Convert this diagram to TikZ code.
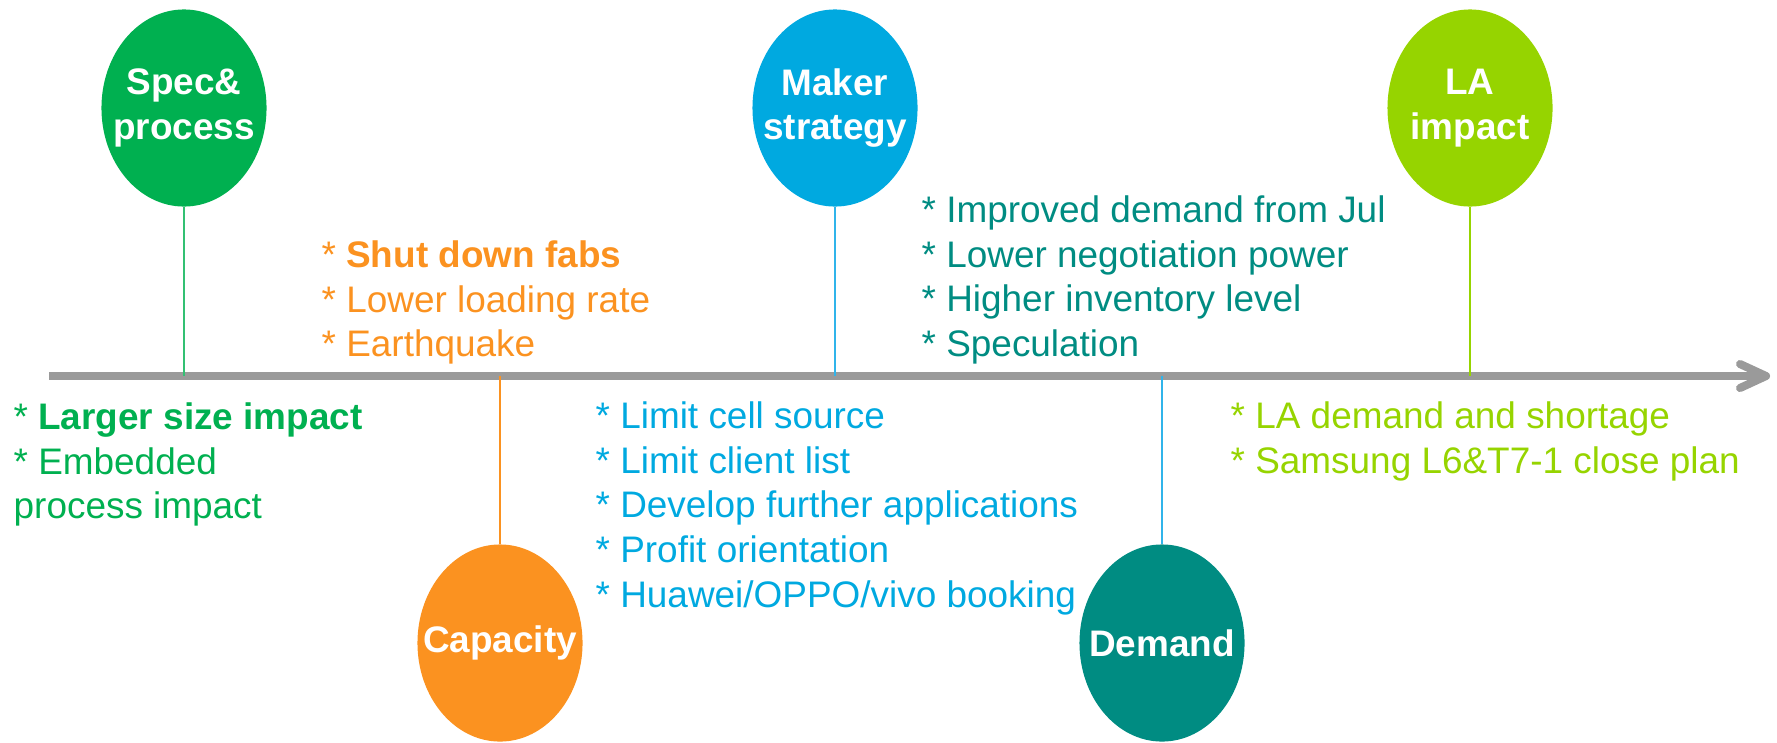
\documentclass[tikz,border=0pt]{standalone}
\usepackage{fontspec}
\setmainfont{Liberation Sans}
\usetikzlibrary{positioning}
\usetikzlibrary{shapes.geometric}

\definecolor{specgreen}{HTML}{00B050}
\definecolor{caporange}{HTML}{FB9220}
\definecolor{makerblue}{HTML}{00A9E0}
\definecolor{demandteal}{HTML}{008C82}
\definecolor{lalime}{HTML}{96D400}
\definecolor{stemblue}{HTML}{30B4EA}
\definecolor{axisgrey}{HTML}{9A9A9A}

\tikzset{
  milestone/.style={ellipse, fill=#1, text=white, font=\fontsize{10.5pt}{12.7pt}\selectfont\bfseries,
    minimum width=1.65cm, minimum height=1.97cm, inner xsep=-0.2cm, inner ysep=0pt, align=center},
  notes/.style={text=#1, font=\fontsize{10.5pt}{12.7pt}\selectfont, anchor=north west,
    inner sep=0pt, align=left},
  stem/.style={draw=#1, line width=0.6pt},
  axisline/.style={draw=axisgrey, line width=2.3pt},
}

\begin{document}
\begin{tikzpicture}[x=0.01cm, y=-0.01cm]
\useasboundingbox (0,0) rectangle (1777,742);

% time axis
\coordinate (ax-start) at (49,376);
\coordinate (ax-end) at (1766,376);
\draw[axisline] (ax-start) -- ([xshift=-0.02cm]ax-end);
\draw[axisline, line cap=round, line join=round]
  ([shift={(-26,-12)}]ax-end) -- (ax-end) -- ([shift={(-26,12)}]ax-end);

% milestones
\node[milestone=specgreen] (spec) at (184,108) {Spec\&\\process};
\node[milestone=caporange] (capacity) at (500,643) {Capacity};
\node[milestone=makerblue] (maker) at (835,108) {Maker\\strategy};
\node[milestone=demandteal] (demand) at (1162,643) {Demand};
\node[milestone=lalime] (la) at (1470,108) {LA\\impact};

\coordinate (spec-a) at (spec |- ax-start);
\coordinate (capacity-a) at (capacity |- ax-start);
\coordinate (maker-a) at (maker |- ax-start);
\coordinate (demand-a) at (demand |- ax-start);
\coordinate (la-a) at (la |- ax-start);

\draw[stem=specgreen!80] (spec) -- (spec-a);
\draw[stem=caporange] (capacity-a) -- (capacity);
\draw[stem=stemblue] (maker) -- (maker-a);
\draw[stem=stemblue] (demand-a) -- (demand);
\draw[stem=lalime] (la) -- (la-a);

% notes (top of first line)
\node[notes=specgreen] (spec-notes) at (13,402)
  {* \textbf{Larger size impact}\\* Embedded\\process impact};
\node[notes=caporange] (capacity-notes) at (321,240)
  {* \textbf{Shut down fabs}\\* Lower loading rate\\* Earthquake};
\node[notes=makerblue] (maker-notes) at (595,401)
  {* Limit cell source\\* Limit client list\\* Develop further applications\\* Profit orientation\\* Huawei/OPPO/vivo booking};
\node[notes=demandteal] (demand-notes) at (921,195)
  {* Improved demand from Jul\\* Lower negotiation power\\* Higher inventory level\\* Speculation};
\node[notes=lalime] (la-notes) at (1230,401)
  {* LA demand and shortage\\* Samsung L6\&T7-1 close plan};

\end{tikzpicture}
\end{document}
